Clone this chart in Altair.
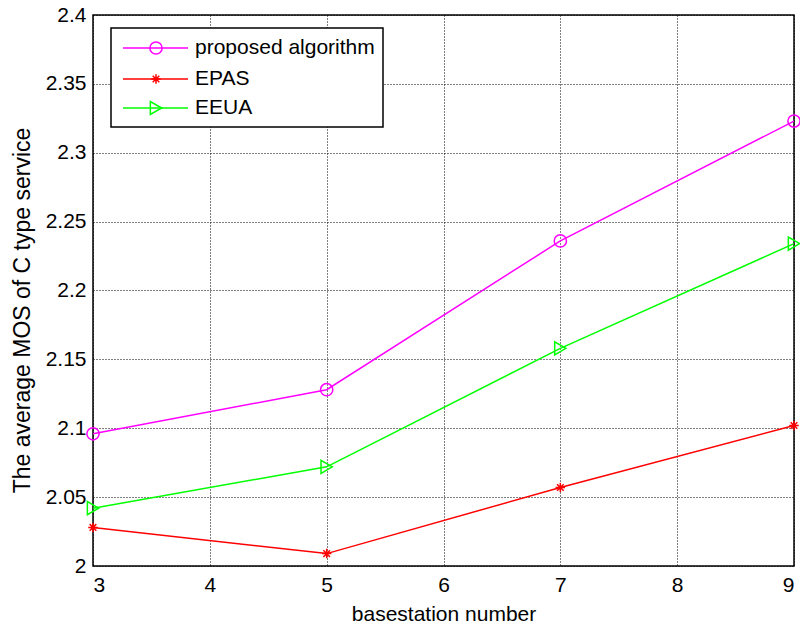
import altair as alt
import pandas as pd

x_vals = [3, 5, 7, 9]
series_names = ["proposed algorithm", "EPAS", "EEUA"]
proposed = [2.096, 2.128, 2.236, 2.323]
epas = [2.028, 2.009, 2.057, 2.102]
eeua = [2.042, 2.072, 2.158, 2.234]
x_ticks = [3, 4, 5, 6, 7, 8, 9]
y_ticks = [2.0, 2.05, 2.1, 2.15, 2.2, 2.25, 2.3, 2.35, 2.4]

colors = ["#ff00ff", "#ff0000", "#00ff00"]
asterisk = "M-1,0L1,0M0,-1L0,1M-0.7,-0.7L0.7,0.7M-0.7,0.7L0.7,-0.7"
shapes = ["circle", asterisk, "triangle-right"]
sizes = [150, 90, 170]
FONT = "Liberation Sans"
FS = 21

rows = []
for name, vals in zip(series_names, [proposed, epas, eeua]):
    for x, y in zip(x_vals, vals):
        rows.append({"series": name, "x": x, "y": y})
df = pd.DataFrame(rows)

xenc = alt.X("x:Q", scale=alt.Scale(domain=[3, 9], nice=False),
             axis=alt.Axis(values=x_ticks, title="basestation number", format="d",
                           grid=True, gridColor="black", gridDash=[1, 2], gridOpacity=1,
                           ticks=False, domain=False, labelPadding=8,
                           titleY=54, titleBaseline="alphabetic",
                           labelFontSize=FS, titleFontSize=FS, labelFont=FONT, titleFont=FONT,
                           labelColor="black", titleColor="black", titleFontWeight="normal"))
yenc = alt.Y("y:Q", scale=alt.Scale(domain=[2, 2.4], nice=False, zero=False),
             axis=alt.Axis(values=y_ticks, title="The average MOS of C type service", format="~g",
                           grid=True, gridColor="black", gridDash=[1, 2], gridOpacity=1,
                           ticks=False, domain=False, labelPadding=7,
                           titleX=-71, titleY=295, titleAngle=270, titleBaseline="middle",
                           titleAlign="center",
                           labelFontSize=FS, titleFontSize=23, labelFont=FONT, titleFont=FONT,
                           labelColor="black", titleColor="black", titleFontWeight="normal"))
cenc = alt.Color("series:N", scale=alt.Scale(domain=series_names, range=colors), legend=None)

layers = [alt.Chart(df).mark_line(strokeWidth=1.5).encode(x=xenc, y=yenc, color=cenc)]
for name, col, shp, sz in zip(series_names, colors, shapes, sizes):
    layers.append(
        alt.Chart(df[df.series == name]).mark_point(shape=shp, size=sz, filled=False,
                                                    strokeWidth=1.5, color=col, opacity=1)
        .encode(x="x:Q", y="y:Q"))

one = pd.DataFrame({"a": [0]})
layers.append(alt.Chart(one).mark_rect(fill="white", stroke="black", strokeWidth=1.5).encode(
    x=alt.value(18), x2=alt.value(290), y=alt.value(13), y2=alt.value(112)))
leg_y = [33, 64, 93]
for name, col, shp, sz, ly in zip(series_names, colors, shapes, sizes, leg_y):
    layers.append(alt.Chart(one).mark_rule(color=col, strokeWidth=1.5).encode(
        x=alt.value(30), x2=alt.value(95), y=alt.value(ly)))
    layers.append(alt.Chart(one).mark_point(shape=shp, size=sz, filled=False, strokeWidth=1.5,
                                            color=col, opacity=1).encode(
        x=alt.value(63), y=alt.value(ly)))
    layers.append(alt.Chart(one).mark_text(align="left", baseline="middle", fontSize=FS,
                                           font=FONT, color="black").encode(
        x=alt.value(102), y=alt.value(ly), text=alt.value(name)))

chart = alt.layer(*layers).properties(
    width=701, height=551,
    padding={"left": 93, "top": 15, "right": 6, "bottom": 63},
    autosize=alt.AutoSizeParams(type="none"),
    background="white",
).configure_view(stroke="black", strokeWidth=1.5)

chart.save("out.html", embed_options={"renderer": "svg", "actions": False})
